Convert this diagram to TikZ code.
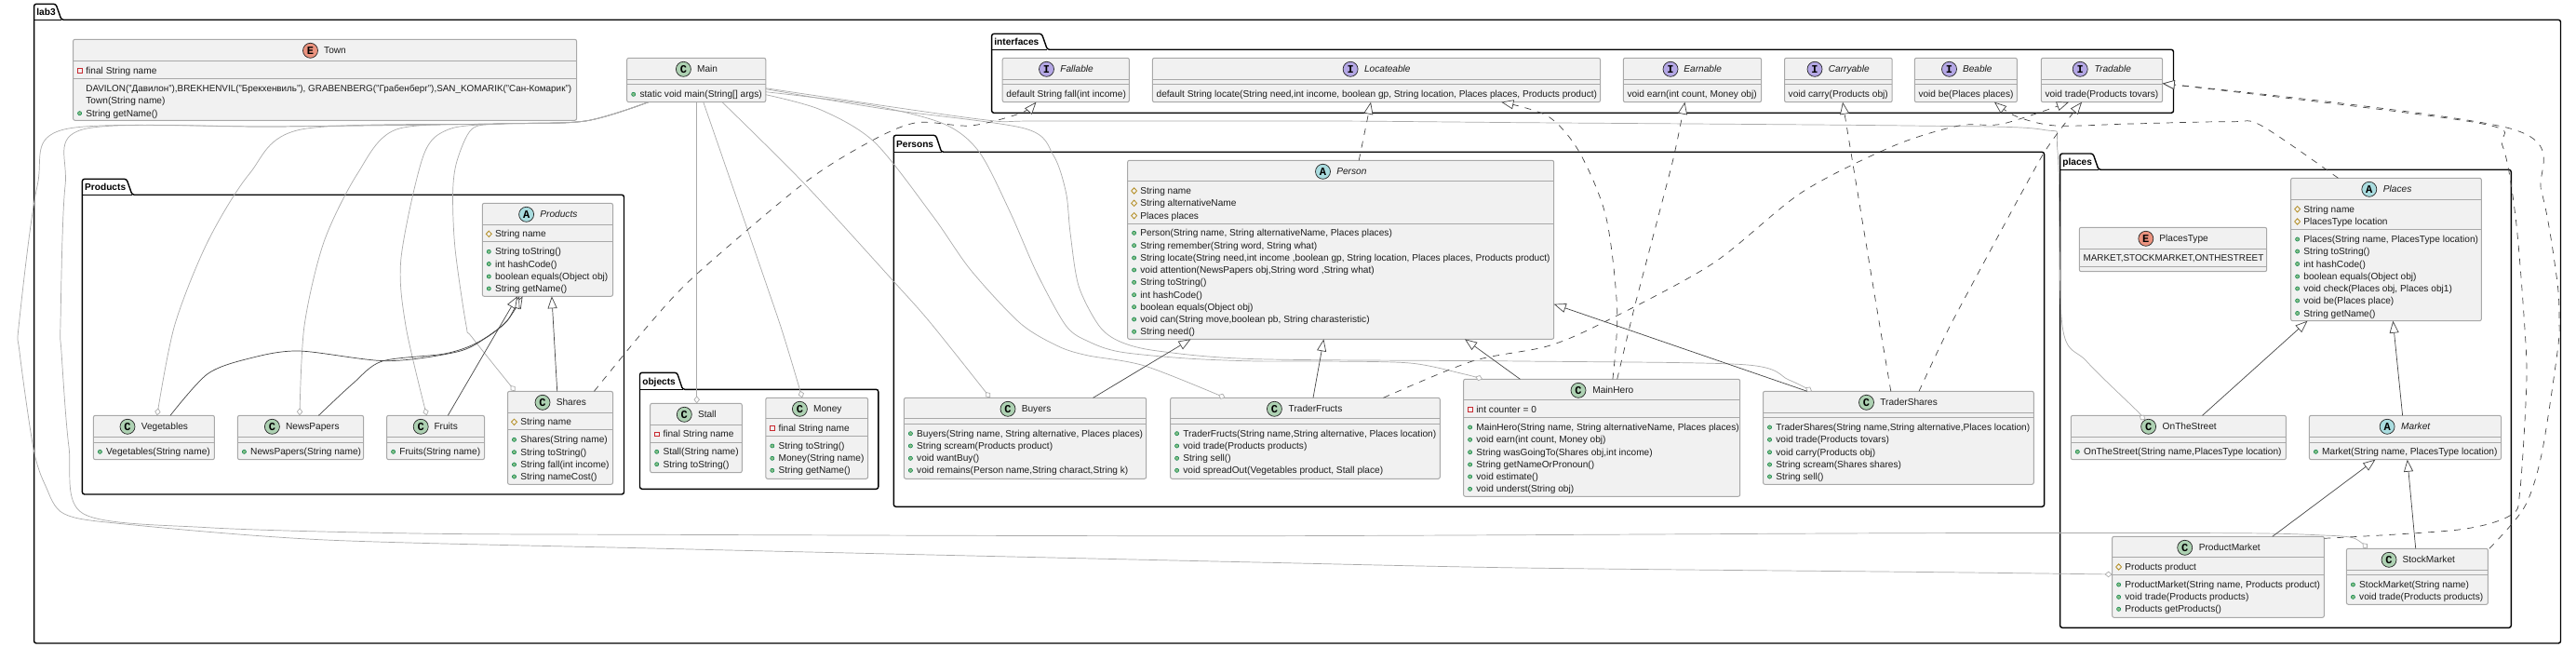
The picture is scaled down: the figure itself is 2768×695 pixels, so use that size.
\documentclass[tikz,border=0pt]{standalone}
\usepackage{fontspec}
\setmainfont{Liberation Sans}
\newfontfamily\circfont{Liberation Mono}
\usetikzlibrary{arrows.meta,calc}
\definecolor{boxfill}{HTML}{F1F1F1}
\definecolor{boxline}{HTML}{A8A8A8}
\definecolor{asc}{HTML}{ABABAB}
\definecolor{inhc}{HTML}{454545}
\definecolor{txtc}{HTML}{1C1C1C}
\definecolor{cC}{HTML}{ADD1B2}
\definecolor{cE}{HTML}{EB937F}
\definecolor{cA}{HTML}{A9DCDF}
\definecolor{cI}{HTML}{B4A7E5}
\newcounter{tc}
\tikzset{
 clsbox/.style={draw=boxline,fill=boxfill,line width=.5pt,rounded corners=1pt,inner sep=0pt,outer sep=0pt},
 clsline/.style={draw=boxline,line width=.5pt},
 txt/.style={anchor=base west,inner sep=0pt,outer sep=0pt,text=txtc,font=\fontsize{5.07pt}{6pt}\selectfont},
 pkgtxt/.style={anchor=base west,inner sep=0pt,outer sep=0pt,text=black,font=\fontsize{5.07pt}{6pt}\selectfont\bfseries},
 circ/.style={circle,draw=black!85,line width=.35pt,minimum size=8pt,inner sep=0pt,outer sep=0pt,text=black,font=\fontsize{6pt}{6pt}\selectfont\circfont\bfseries},
 pkgline/.style={draw=black,line width=.7pt},
 assoc/.style={draw=asc,line width=.35pt,-{Diamond[open,fill=white,length=4pt,width=3.2pt,line width=.35pt]}},
 inh/.style={draw=inhc,line width=.35pt,-{Triangle[open,fill=white,length=6.5pt,width=5pt,line width=.35pt]}},
 real/.style={inh,dash pattern=on 3.5pt off 3.5pt},
}
\newcommand\pkg[8]{%
 \draw[pkgline,rounded corners=1.2pt] (#7,#4) -- (#7-6,#3) -- (#2,#3) -- (#2,#6) -- (#5,#6) -- (#5,#4) -- cycle;
 \draw[pkgline] (#2,#4) -- (#7,#4);
 \node[pkgtxt] (#1) at (#2+2.8,#4-5) {#8};}
\newcommand\cbox[6]{%
 \pgfmathsetmacro\cw{(#4-#2)*0.5}\pgfmathsetmacro\ch{(#5-#3)*0.5}%
 \node[clsbox,minimum width=\cw pt,minimum height=\ch pt,anchor=north west] (#1) at (#2,#3) {};
 \xdef\bx{#2}\xdef\by{#3}%
 \foreach \s in {#6} {\draw[clsline] (#2,\s) -- (#4,\s);}}
\newcommand\ctitle[5]{% colour,letter,circle x,text x,title
 \stepcounter{tc}\node[circ,fill=#1] (c\arabic{tc}) at (#3,\by+12) {#2};
 \node[txt] (h\arabic{tc}) at (#4,\by+15.6) {#5};}
\newcommand\rown[2]{\stepcounter{tc}\node[txt] (t\arabic{tc}) at (\bx+4.2,#1+3.6) {#2};}
\newcommand\rowb[2]{\stepcounter{tc}\node[txt] (t\arabic{tc}) at (\bx+13.8,#1+3.6) {#2};}
\newcommand\rowp[2]{\filldraw[draw=HTMLg,fill=HTMLh,line width=.25pt] (\bx+7,#1) circle[radius=1.05pt];\rowb{#1}{#2}}
\newcommand\rowx[2]{\draw[draw=HTMLr,line width=.4pt] (\bx+4.6,#1-2.2) rectangle (\bx+9.4,#1+2.2);\rowb{#1}{#2}}
\newcommand\rowd[2]{\draw[draw=HTMLy,line width=.4pt] (\bx+7,#1-3.2) -- (\bx+10,#1) -- (\bx+7,#1+3.2) -- (\bx+4,#1) -- cycle;\rowb{#1}{#2}}
\definecolor{HTMLg}{HTML}{038048}
\definecolor{HTMLh}{HTML}{84BE84}
\definecolor{HTMLr}{HTML}{C82930}
\definecolor{HTMLy}{HTML}{B38D22}
\begin{document}
\begin{tikzpicture}[x=0.5pt,y=-0.5pt]
\useasboundingbox (0,0) rectangle (2768,695);
% packages
\pkg{pkgLab}{36.6}{4.3}{21.3}{2751.5}{691}{66}{lab3}
\pkg{pkgInterfaces}{1065.6}{36.3}{53.3}{2335.5}{121.3}{1125.4}{interfaces}
\pkg{pkgPersons}{960.3}{145.3}{163.3}{2196.6}{544.3}{1011.6}{Persons}
\pkg{pkgProducts}{88.4}{192.3}{209.3}{670.5}{531}{142}{Products}
\pkg{pkgObjects}{687.5}{400.3}{418.3}{943.8}{525.3}{733.5}{objects}
\pkg{pkgPlaces}{2213.6}{165}{182.3}{2698.3}{674.3}{2255}{places}
% classes
\cbox{Town}{78.6}{42.3}{619.6}{129.3}{65.3,84.3}
\ctitle{cE}{E}{333.5}{348.2}{Town}
\rowx{76}{final String name}
\rowb{95}{\fontsize{4.94pt}{6pt}\selectfont DAVILON("Давилон"),BREKHENVIL("Брекхенвиль"), GRABENBERG("Грабенберг"),SAN\_KOMARIK("Сан-Комарик")}
\rowb{108.3}{Town(String name)}
\rowp{121.7}{String getName()}

\cbox{Main}{673.7}{62.3}{822.8}{109.7}{85.3,90.3}
\ctitle{cC}{C}{734.4}{749.1}{Main}
\rowp{101.3}{static void main(String[] args)}

\cbox{Fallable}{1077.2}{62.3}{1213.4}{109.7}{85.3,90.3}
\ctitle{cI}{I}{1124.5}{1139.3}{\itshape Fallable}
\rown{101.3}{default String fall(int income)}
\cbox{Locateable}{1238.4}{62.3}{1719.5}{109.7}{85.3,90.3}
\ctitle{cI}{I}{1451.1}{1466}{\itshape Locateable}
\rown{101.3}{default String locate(String need,int income, boolean gp, String location, Places places, Products product)}
\cbox{Earnable}{1744.3}{62.3}{1892.6}{109.7}{85.3,90.3}
\ctitle{cI}{I}{1795}{1809.4}{\itshape Earnable}
\rown{101.3}{void earn(int count, Money obj)}
\cbox{Carryable}{1917.5}{62.3}{2033.2}{109.7}{85.3,90.3}
\ctitle{cI}{I}{1950}{1964.8}{\itshape Carryable}
\rown{101.3}{void carry(Products obj)}
\cbox{Beable}{2057.3}{62.3}{2167.4}{109.7}{85.3,90.3}
\ctitle{cI}{I}{2094.5}{2109}{\itshape Beable}
\rown{101.3}{void be(Places places)}
\cbox{Tradable}{2193.3}{62.3}{2323.7}{109.7}{85.3,90.3}
\ctitle{cI}{I}{2235.2}{2250.7}{\itshape Tradable}
\rown{101.3}{void trade(Products tovars)}

\cbox{Person}{1211.6}{172.3}{1669.7}{364.3}{194.3,240.3}
\ctitle{cA}{A}{1421.5}{1436.3}{\itshape Person}
\rowd{205}{String name}
\rowd{218.3}{String alternativeName}
\rowd{231.7}{Places places}
\rowp{250.3}{Person(String name, String alternativeName, Places places)}
\rowp{263.7}{String remember(String word, String what)}
\rowp{277}{String locate(String need,int income ,boolean gp, String location, Places places, Products product)}
\rowp{290}{void attention(NewsPapers obj,String word ,String what)}
\rowp{303.3}{String toString()}
\rowp{316.7}{int hashCode()}
\rowp{329.7}{boolean equals(Object obj)}
\rowp{343}{void can(String move,boolean pb, String charasteristic)}
\rowp{356.3}{String need()}

\cbox{Products}{518.3}{218.3}{658.5}{318.3}{241.3,259.3}
\ctitle{cA}{A}{565.6}{580.4}{\itshape Products}
\rowd{251.3}{String name}
\rowp{270.3}{String toString()}
\rowp{283.5}{int hashCode()}
\rowp{297}{boolean equals(Object obj)}
\rowp{310}{String getName()}

\cbox{Vegetables}{100.4}{446.3}{230.4}{493.7}{469.3,475}
\ctitle{cC}{C}{137}{151.8}{Vegetables}
\rowp{485.3}{Vegetables(String name)}
\cbox{NewsPapers}{255.4}{446.3}{390.6}{493.7}{469.3,475}
\ctitle{cC}{C}{292.4}{307.1}{NewsPapers}
\rowp{485.3}{NewsPapers(String name)}
\cbox{Fruits}{415.6}{446.3}{520.5}{493.7}{469.3,475}
\ctitle{cC}{C}{452.2}{466.5}{Fruits}
\rowp{485.3}{Fruits(String name)}
\cbox{Shares}{545.5}{420.3}{658.5}{520.3}{443.3,461.3}
\ctitle{cC}{C}{583}{597.8}{Shares}
\rowd{453.3}{String name}
\rowp{472.3}{Shares(String name)}
\rowp{485.7}{String toString()}
\rowp{499}{String fall(int income)}
\rowp{512}{String nameCost()}

\cbox{Stall}{698.7}{433.3}{797.3}{507.7}{456.3,475.3}
\ctitle{cC}{C}{735.3}{750}{Stall}
\rowx{466.3}{final String name}
\rowp{485.3}{Stall(String name)}
\rowp{498.7}{String toString()}
\cbox{Money}{822.8}{427.3}{932.6}{514.3}{449.3,468.3}
\ctitle{cC}{C}{859.4}{874.1}{Money}
\rowx{460}{final String name}
\rowp{479}{String toString()}
\rowp{492.3}{Money(String name)}
\rowp{505.3}{String getName()}

\cbox{Buyers}{971.4}{427.3}{1231.7}{514.3}{449.3,455}
\ctitle{cC}{C}{1083}{1097.8}{Buyers}
\rowp{465.7}{Buyers(String name, String alternative, Places places)}
\rowp{479}{String scream(Products product)}
\rowp{492.3}{void wantBuy()}
\rowp{505.3}{void remains(Person name,String charact,String k)}
\cbox{TraderFructs}{1257.6}{427.3}{1547.3}{514.3}{449.3,455}
\ctitle{cC}{C}{1369.4}{1384.7}{TraderFructs}
\rowp{465.7}{TraderFructs(String name,String alternative, Places location)}
\rowp{479}{void trade(Products products)}
\rowp{492.3}{String sell()}
\rowp{505.3}{void spreadOut(Vegetables product, Stall place)}
\cbox{MainHero}{1572.6}{407.3}{1869.7}{533.3}{429.3,448.3}
\ctitle{cC}{C}{1696}{1711.3}{MainHero}
\rowx{440}{int counter = 0}
\rowp{459}{MainHero(String name, String alternativeName, Places places)}
\rowp{472.3}{void earn(int count, Money obj)}
\rowp{485.7}{String wasGoingTo(Shares obj,int income)}
\rowp{499}{String getNameOrPronoun()}
\rowp{512}{void estimate()}
\rowp{525.3}{void underst(String obj)}
\cbox{TraderShares}{1894.5}{420.3}{2185.3}{520.3}{443.3,448.3}
\ctitle{cC}{C}{2005.5}{2020.3}{TraderShares}
\rowp{459}{TraderShares(String name,String alternative,Places location)}
\rowp{472.3}{void trade(Products tovars)}
\rowp{485.7}{void carry(Products obj)}
\rowp{499}{String scream(Shares shares)}
\rowp{512}{String sell()}

\cbox{PlacesType}{2234.3}{244.3}{2435.7}{291.7}{267.3,286.3}
\ctitle{cE}{E}{2305.8}{2320.4}{PlacesType}
\rown{277.3}{\fontsize{4.96pt}{6pt}\selectfont MARKET,STOCKMARKET,ONTHESTREET}
\cbox{Places}{2461.6}{191.3}{2666.3}{344.7}{214.3,246.7}
\ctitle{cA}{A}{2545.8}{2560.9}{\itshape Places}
\rowd{224.7}{String name}
\rowd{238}{PlacesType location}
\rowp{257}{Places(String name, PlacesType location)}
\rowp{270}{String toString()}
\rowp{283.5}{int hashCode()}
\rowp{297}{boolean equals(Object obj)}
\rowp{310}{void check(Places obj, Places obj1)}
\rowp{323}{void be(Places place)}
\rowp{336.5}{String getName()}
\cbox{OnTheStreet}{2225.3}{446.3}{2456.4}{493.7}{469.3,475}
\ctitle{cC}{C}{2308.6}{2323.7}{OnTheStreet}
\rowp{485.3}{OnTheStreet(String name,PlacesType location)}
\cbox{Market}{2481.4}{446.3}{2687.5}{493.7}{469.3,475}
\ctitle{cA}{A}{2565.1}{2580.2}{\itshape Market}
\rowp{485.3}{Market(String name, PlacesType location)}
\cbox{ProductMarket}{2269.6}{576.3}{2497.4}{663.3}{598.3,617.3}
\ctitle{cC}{C}{2347.7}{2362.8}{ProductMarket}
\rowd{609}{Products product}
\rowp{628}{ProductMarket(String name, Products product)}
\rowp{641.3}{void trade(Products products)}
\rowp{654.3}{Products getProducts()}
\cbox{StockMarket}{2521.4}{589.3}{2673.4}{649.3}{612.3,617.3}
\ctitle{cC}{C}{2567}{2581.6}{StockMarket}
\rowp{628}{StockMarket(String name)}
\rowp{641.3}{void trade(Products products)}

% associations from Main
\draw[assoc] plot[smooth,tension=.5] coordinates {($(Main.south west)+(23,0)$) (629,130) (535.7,133) (300,136) (69,139) (40,200) (20.5,347) (21,378) (36,482) (49,522) (69,552) (134,563) (350,580) (700,589) (1000,596) (1350,604) (1635,610) (2050,614.3) (2171,615.7) ($(ProductMarket.north west)+(0,40.7)$)};
\draw[assoc] plot[smooth,tension=.5] coordinates {($(Main.south west)+(23,0)$) (629,130) (535.7,133) (300,136) (89,139) (70,200) (65,347) (66,378) (74,480) (89.3,551.7) (223,566.7) (446,573) (700,574.3) (1350,575.7) (2050,572.7) (2400,572.7) (2496,575) (2529,578) ($(StockMarket.north west)+(22.6,0)$)};
\draw[assoc] plot[smooth,tension=.5] coordinates {($(Main.south west)+(23,0)$) (629,130) (535.7,133) (323.7,139) (268,186.7) (223,260) (187.5,350) ($(Vegetables.north west)+(68.4,0)$)};
\draw[assoc] plot[smooth,tension=.5] coordinates {($(Main.south west)+(23,0)$) (629,130) (535.7,133) (426,139) (384,186.7) (348,260) (327,350) ($(NewsPapers.north west)+(66.6,0)$)};
\draw[assoc] plot[smooth,tension=.5] coordinates {($(Main.south west)+(23,0)$) (629,130) (535.7,133) (482,139) (455,167) (431,277) (436,350) ($(Fruits.north west)+(42.9,0)$)};
\draw[assoc] plot[smooth,tension=.5] coordinates {($(Main.south west)+(23,0)$) (629,130) (535.7,133) (506.7,139) (491,173) (486.6,207) (489,267) (501,350) (507,362) ($(Shares.north west)+(8.1,0)$)};
\draw[assoc] ($(Main.south west)+(75,0)$) -- ($(Stall.north west)+(50,0)$);
\draw[assoc] plot[smooth,tension=.3] coordinates {($(Main.south west)+(82.1,0)$) (837,345) ($(Money.north west)+(39.2,0)$)};
\draw[assoc] plot[smooth,tension=.5] coordinates {($(Main.south west)+(102.3,0)$) (864,197) (960,302) (1000,347) ($(Buyers.north west)+(92.6,0)$)};
\draw[assoc] plot[smooth,tension=.5] coordinates {($(Main.south east)+(0,-8)$) (882,118) (940,153) (1003,233) (1043,290) (1096,347) (1136.6,371.7) (1168,381.7) (1230,393) ($(TraderFructs.north west)+(58.9,0)$)};
\draw[assoc] plot[smooth,tension=.5] coordinates {($(Main.south east)+(0,-11)$) (936,113) (1014,133) (1052,163) (1085,227) (1114,293) (1145.5,350) (1170,367) (1203.6,378) (1275,385) (1350,388) (1420,388) (1515,390) (1572.6,401.7) ($(MainHero.north west)+(20.4,0)$)};
\draw[assoc] plot[smooth,tension=.5] coordinates {($(Main.south east)+(0,-14)$) (950,117) (1101,138) (1132,167) (1145.5,207) (1150,250) (1159,307) (1181,350) (1203.6,367) (1244,377) (1350,385.7) (1635,388) (1874,391.7) (1922,408) ($(TraderShares.north west)+(52.5,0)$)};
\draw[assoc] plot[smooth,tension=.5] coordinates {($(Main.south east)+(0,-15)$) (1052,128) (1119,130) (1429,130) (1635,131.7) (2050,135) (2195,139.3) (2211,163) (2216,350) (2242,388) (2298,443) ($(OnTheStreet.north west)+(73.4,0)$)};
% inheritance
\draw[inh] plot[smooth,tension=.5] coordinates {($(Vegetables.north west)+(82.6,0)$) (223,401.7) (268,385) (321,377) (415,387.7) (491,378) (522,363) (544.6,345) ($(Products.south west)+(43.3,0)$)};
\draw[inh] plot[smooth,tension=.5] coordinates {($(NewsPapers.north west)+(87,0)$) (379.5,411.7) (410.7,388) (477.7,380) (513,368) (544.6,345) ($(Products.south west)+(39.7,0)$)};
\draw[inh] ($(Fruits.north west)+(65.7,0)$) -- ($(Products.south west)+(37.7,0)$);
\draw[inh] ($(Shares.north west)+(53.2,0)$) -- ($(Products.south west)+(74.6,0)$);
\draw[inh] ($(Buyers.north west)+(203.2,0)$) -- ($(Person.south west)+(67.9,0)$);
\draw[inh] ($(TraderFructs.north west)+(153.4,0)$) -- ($(Person.south west)+(210.8,0)$);
\draw[inh] ($(MainHero.north west)+(60.8,0)$) -- ($(Person.south west)+(362.4,0)$);
\draw[inh] ($(TraderShares.north west)+(47.4,0)$) -- ($(Person.south east)+(0,-37.6)$);
\draw[inh] ($(OnTheStreet.north west)+(141.2,0)$) -- ($(Places.south west)+(17.9,0)$);
\draw[inh] ($(Market.north west)+(100.2,0)$) -- ($(Places.south west)+(109.7,0)$);
\draw[inh] ($(ProductMarket.north west)+(172.2,0)$) -- ($(Market.south west)+(71,0)$);
\draw[inh] ($(StockMarket.north west)+(74.3,0)$) -- ($(Market.south west)+(105.4,0)$);
% realization
\draw[real] plot[smooth,tension=.5] coordinates {($(Shares.north west)+(92.9,0)$) (699,346.7) (748,295) (864,196.7) (935.7,151.7) (985,131.7) (1043,135) (1096.4,121.7) ($(Fallable.south west)+(36.2,0)$)};
\draw[real] ($(Person.north west)+(248.6,0)$) -- ($(Locateable.south west)+(234.6,0)$);
\draw[real] plot[smooth,tension=.5] coordinates {($(MainHero.north west)+(160.3,0)$) (1737.7,333) (1725.7,233) (1697,163.3) (1663.5,125) ($(Locateable.south west)+(374.9,0)$)};
\draw[real] plot[smooth,tension=.3] coordinates {($(MainHero.north west)+(165.1,0)$) (1756.8,328) (1797.4,173) ($(Earnable.south west)+(66.1,0)$)};
\draw[real] plot[smooth,tension=.5] coordinates {($(TraderFructs.north west)+(228.9,0)$) (1582,388) (1663.5,371.7) (1725.7,345) (1840.5,283) (1936,206.7) (2034.7,156.7) (2105,135) (2152,133) ($(Tradable.south west)+(29.7,0)$)};
\draw[real] plot[smooth,tension=.3] coordinates {($(TraderShares.north west)+(137.3,0)$) (2019,345) (1988.8,163) ($(Carryable.south west)+(62.5,0)$)};
\draw[real] plot[smooth,tension=.3] coordinates {($(TraderShares.north west)+(167.5,0)$) (2098,345) (2194.7,166.7) ($(Tradable.south west)+(43.7,0)$)};
\draw[real] plot[smooth,tension=.5] coordinates {($(Places.north west)+(50.8,0)$) (2430,135) (2397,130.7) (2289,133) (2209,135) (2166.5,125) ($(Beable.south west)+(85.7,0)$)};
\draw[real] plot[smooth,tension=.5] coordinates {($(ProductMarket.north east)+(0,2)$) (2642,569) (2698,553.3) (2707.7,528) (2714.8,412) (2712.4,345) (2703,233) (2689,156.7) (2660.7,131.7) ($(Tradable.south east)+(0,-20)$)};
\draw[real] plot[smooth,tension=.5] coordinates {($(StockMarket.north east)+(1.4,0)$) (2712.4,545) (2731,488) (2748,378) (2750,345) (2747.5,300) (2731,206.7) (2698.3,138.3) ($(Tradable.south east)+(0,-20)$)};
\end{tikzpicture}
\end{document}
